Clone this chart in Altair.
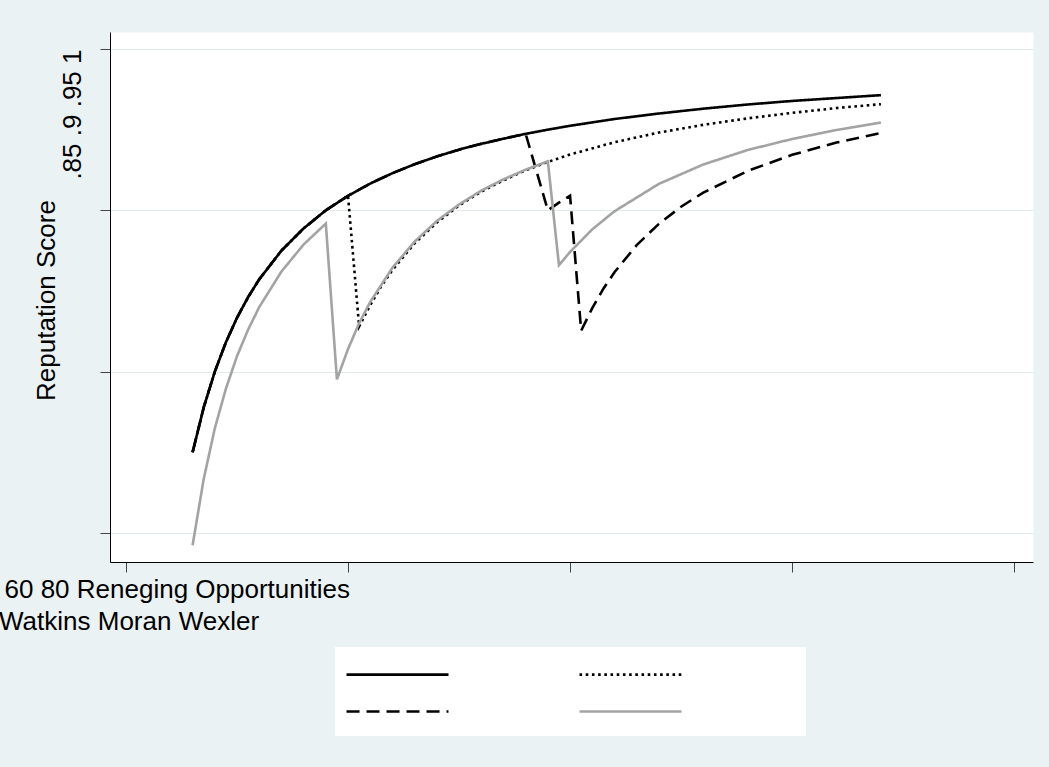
import altair as alt
import pandas as pd

FONT = "Liberation Sans"
FS = 26

series_names = ["Series 1", "Watkins", "Moran", "Wexler"]

t_s1 = [6, 7, 8, 9, 10, 11, 12, 14, 16, 18, 20, 22, 24, 26, 28, 30, 32, 34, 36, 38, 40, 44, 48, 52, 56, 60, 64, 68]
y_s1 = [.875, .8889, .900, .9091, .9167, .9231, .9286, .9375, .9444, .950, .9545, .9583, .9615, .9643, .9667,
        .9688, .9706, .9722, .9737, .975, .9762, .9783, .980, .9815, .9828, .9839, .9848, .9857]

t_watkins = [6, 7, 8, 9, 10, 11, 12, 14, 16, 18, 20, 21, 22, 23, 24, 26, 28, 30, 32, 34, 36, 38, 40, 44, 48, 52, 56, 60, 64, 68]
y_watkins = [.875, .8889, .900, .9091, .9167, .9231, .9286, .9375, .9444, .950, .9545, .914, .9206, .9265, .9315,
             .9398, .9462, .9515, .9558, .9593, .9624, .965, .9673, .9711, .9741, .9765, .9785, .9802, .9817, .9829]

t_moran = [6, 7, 8, 9, 10, 11, 12, 14, 16, 18, 20, 22, 24, 26, 28, 30, 32, 34, 36, 38, 39, 40, 41, 42, 43, 44, 46, 48, 50, 52, 56, 60, 64, 68]
y_moran = [.875, .8889, .900, .9091, .9167, .9231, .9286, .9375, .9444, .950, .9545, .9583, .9615, .9643, .9667,
           .9688, .9706, .9722, .9737, .950, .9524, .9545, .9127, .9197, .9257, .9308, .9392, .9458, .9511, .9555,
           .9622, .9672, .971, .974]

t_wexler = [6, 7, 8, 9, 10, 11, 12, 14, 16, 18, 19, 20, 21, 22, 24, 26, 28, 30, 32, 34, 36, 38, 39, 40, 42, 44, 48, 52, 56, 60, 64, 68]
y_wexler = [.8462, .8667, .8824, .8947, .9048, .913, .920, .931, .9394, .9459, .8976, .907, .915, .9216, .9322,
            .9403, .9467, .9518, .9561, .9596, .9626, .9652, .933, .9371, .9441, .9497, .9582, .9642, .9687, .9721,
            .9749, .9772]

x_ticks = [0, 20, 40, 60, 80]
y_ticks = [0.85, 0.9, 0.95, 1.0]
x_text = "60 80 Reneging Opportunities"
y_text = ".85 .9 .95 1"
y_title = "Reputation Score"
legend_line = ["Watkins Moran Wexler"]

colors = ["#000000", "#000000", "#000000", "#A3A3A3"]
dashes = [[1, 0], [2.6, 3.6], [13, 7], [1, 0]]
widths = [2.6, 2.6, 2.2, 2.2]

rows = []
for k, (name, ts, ys) in enumerate(zip(series_names, [t_s1, t_watkins, t_moran, t_wexler],
                                       [y_s1, y_watkins, y_moran, y_wexler])):
    for t, y in zip(ts, ys):
        rows.append({"series": name, "t": t, "score": y, "k": k})
df = pd.DataFrame(rows)

leg = alt.Legend(orient="none", legendX=225, legendY=625, direction="horizontal", columns=2,
                 title=None, symbolType="M-10,0L10,0", symbolSize=104, symbolStrokeWidth=2.6,
                 symbolOffset=45, labelExpr="''", labelOffset=0, columnPadding=120, rowPadding=25,
                 padding=11)

lines = alt.Chart(df).mark_line(clip=True).encode(
    x=alt.X("t:Q", scale=alt.Scale(domain=[-1.44, 81.7], nice=False, zero=False),
            axis=alt.Axis(values=x_ticks, labels=False, tickSize=10, tickColor="#444444", grid=False,
                          domainColor="#000000", domainWidth=1,
                          title=x_text, titleX=-106, titleY=35, titleAlign="left", titleAnchor="start",
                          titleBaseline="alphabetic", titleAngle=0, titleFontSize=FS, titleFont=FONT,
                          titleFontWeight="normal", titleColor="#000000")),
    y=alt.Y("score:Q", scale=alt.Scale(domain=[0.8410, 1.00527], nice=False, zero=False),
            axis=alt.Axis(values=y_ticks,
                          labelExpr="datum.value == 1 ? '" + y_text + "' : ''",
                          labelAngle=270, labelAlign="right", labelBaseline="alphabetic", labelPadding=20,
                          labelFontSize=FS, labelFont=FONT, labelColor="#000000",
                          labelOverlap=False, labelFlush=False,
                          tickSize=10, tickColor="#444444", domainColor="#000000", domainWidth=1,
                          grid=True, gridColor="#E1E9E9", gridWidth=1,
                          title=y_title, titleAngle=270, titleX=-56, titleY=268, titleAlign="center",
                          titleBaseline="alphabetic", titleFontSize=FS, titleFont=FONT,
                          titleFontWeight="normal", titleColor="#000000")),
    color=alt.Color("series:N", scale=alt.Scale(domain=series_names, range=colors), legend=leg),
    strokeDash=alt.StrokeDash("series:N", scale=alt.Scale(domain=series_names, range=dashes), legend=leg),
    strokeWidth=alt.StrokeWidth("series:N", scale=alt.Scale(domain=series_names, range=widths), legend=None),
    detail="series:N",
    order="t:Q",
)

legend_box = alt.Chart(pd.DataFrame({"box": [0]})).mark_rect(color="#FFFFFF").encode(
    x=alt.value(225), x2=alt.value(696), y=alt.value(615), y2=alt.value(704)
)

txt = alt.Chart(pd.DataFrame({"label": legend_line})).mark_text(
    align="left", baseline="alphabetic", fontSize=FS, font=FONT, color="#000000"
).encode(x=alt.value(-111), y=alt.value(598), text="label:N")

chart = alt.layer(legend_box, lines, txt).properties(
    width=923, height=530,
    autosize=alt.AutoSizeParams(type="none"),
    padding={"left": 110, "top": 32, "right": 16, "bottom": 205},
).configure(background="#EAF2F3").configure_view(fill="#FFFFFF", stroke="transparent")

chart.save("out.html", embed_options={"renderer": "svg", "actions": False})
